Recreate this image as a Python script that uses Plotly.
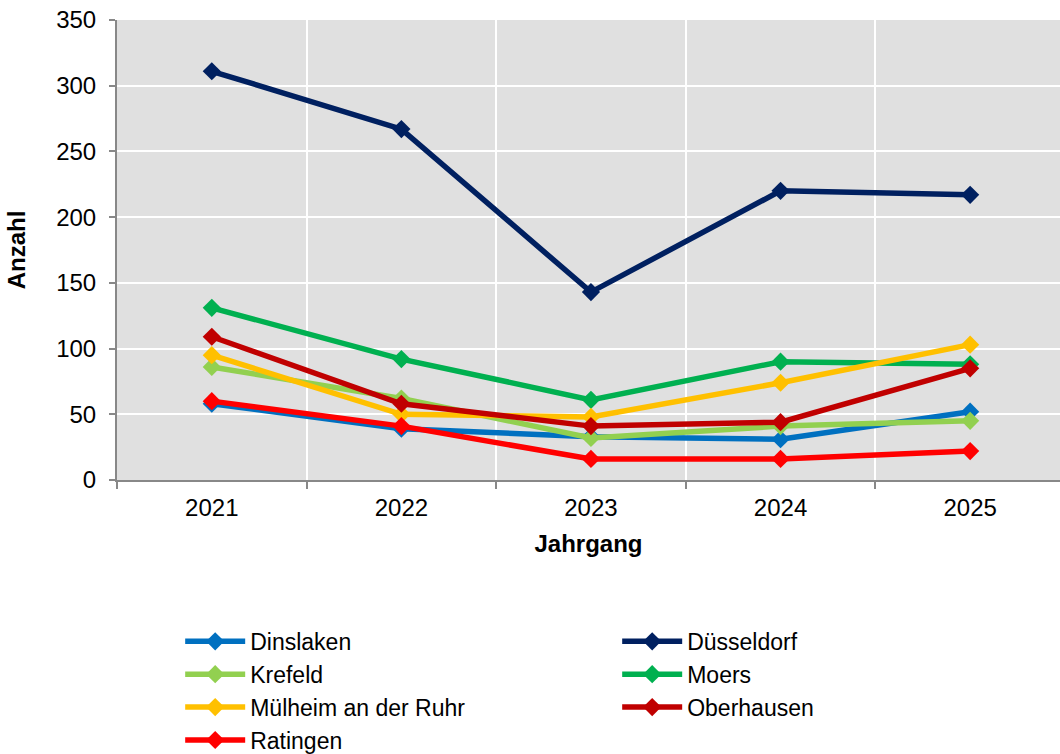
import plotly.graph_objects as go

years = ["2021", "2022", "2023", "2024", "2025"]
dinslaken = [58, 39, 33, 31, 52]
duesseldorf = [311, 267, 143, 220, 217]
krefeld = [86, 62, 32, 41, 45]
moers = [131, 92, 61, 90, 88]
muelheim = [95, 50, 48, 74, 103]
oberhausen = [109, 58, 41, 44, 85]
ratingen = [60, 41, 16, 16, 22]

series = [
    ("Dinslaken", dinslaken, "#0070C0"),
    ("Düsseldorf", duesseldorf, "#002060"),
    ("Krefeld", krefeld, "#92D050"),
    ("Moers", moers, "#00B050"),
    ("Mülheim an der Ruhr", muelheim, "#FFC000"),
    ("Oberhausen", oberhausen, "#C00000"),
    ("Ratingen", ratingen, "#FF0000"),
]

xpos = list(range(len(years)))
FONT = "Liberation Sans, Arial, sans-serif"
FS = 24

fig = go.Figure()
for name, vals, col in series:
    fig.add_trace(go.Scatter(
        x=xpos, y=vals, name=name, mode="lines+markers",
        line=dict(color=col, width=5.5),
        marker=dict(symbol="diamond", size=14, color=col),
    ))

fig.update_layout(
    width=1060, height=754,
    margin=dict(l=117, r=0, t=20, b=274, autoexpand=False),
    paper_bgcolor="white", plot_bgcolor="#E0E0E0",
    font=dict(family=FONT, size=FS, color="black"),
    showlegend=True,
    legend=dict(
        orientation="h", x=0.067, xanchor="left", y=-0.304, yanchor="top",
        entrywidth=362, entrywidthmode="pixels",
        font=dict(size=23), traceorder="normal", itemwidth=60,
        bgcolor="rgba(0,0,0,0)",
    ),
)
fig.update_xaxes(
    range=[-0.5, 4.474], tickmode="array", tickvals=xpos, ticktext=years,
    showgrid=False, ticks="", showline=True, linecolor="#888888", linewidth=2,
    zeroline=False, ticklabelstandoff=5,
    minor=dict(tick0=0.5, dtick=1, showgrid=True, gridcolor="white", gridwidth=2,
               ticks="outside", ticklen=7, tickcolor="#888888", tickwidth=2),
    title=dict(text="<b>Jahrgang</b>", font=dict(size=FS), standoff=15),
)
fig.update_yaxes(
    range=[0, 350], tickmode="linear", tick0=0, dtick=50,
    showgrid=True, gridcolor="white", gridwidth=2,
    ticks="outside", ticklen=6, tickcolor="#888888", tickwidth=2,
    showline=True, linecolor="#888888", linewidth=2, zeroline=False,
    ticklabelstandoff=8, ticklabeloverflow="allow",
    title=dict(text="<b>Anzahl</b>", font=dict(size=FS), standoff=24),
)

fig.write_html("out.html",
               config={"displayModeBar": False},
               post_script="document.body.style.margin='0';document.body.style.overflow='hidden';")
